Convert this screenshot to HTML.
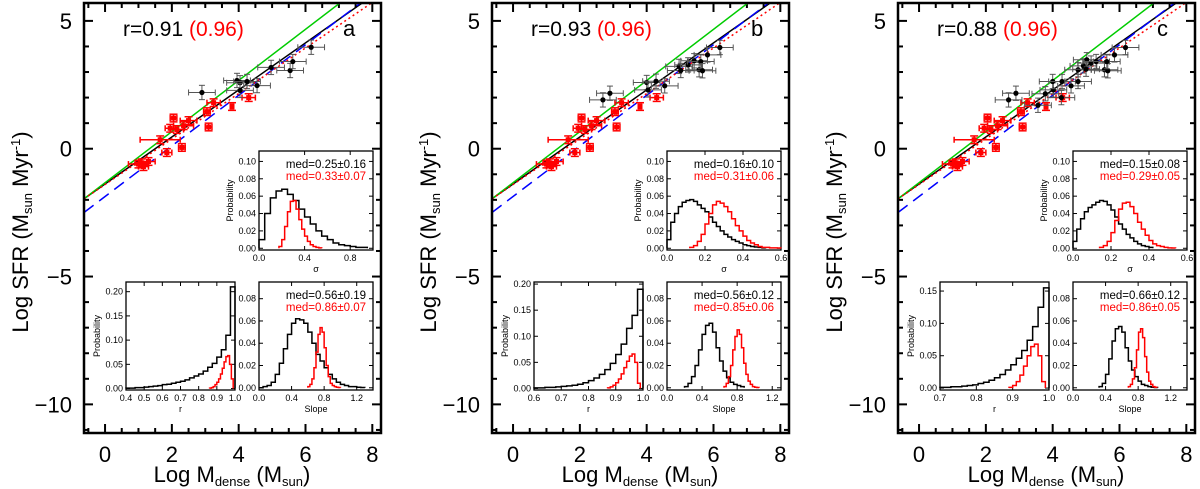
<!DOCTYPE html>
<html><head><meta charset="utf-8">
<style>
body{margin:0;background:#fff;}
svg{display:block;font-family:"Liberation Sans",sans-serif;}
</style></head>
<body>
<svg id="fig" width="1200" height="489" viewBox="0 0 1200 489"></svg>
<script>
// ---------- data ----------
const redX=[1.1,1.15,1.3,1.0,1.65,1.85,1.95,2.05,2.15,2.3,2.35,2.5,3.1,3.05,3.25,3.8,4.3];
const redY=[-0.55,-0.7,-0.5,-0.6,0.35,-0.15,0.8,1.2,0.75,0.05,0.9,1.1,0.85,1.45,1.8,1.65,2.0];
const redXErr=[0.2,0.15,0.2,0.3,0.6,0.15,0.15,0.1,0.2,0.1,0.3,0.25,0.1,0.1,0.2,0.05,0.2];
const blackXa=[2.9,3.95,4.04,4.04,4.25,4.55,4.97,5.54,5.62,6.17];
const blackYa=[2.2,2.67,2.58,2.28,2.63,2.47,3.18,3.06,3.41,3.97];
const blackXb=[2.69,2.9,4.0,4.04,4.28,4.54,4.97,5.02,5.24,5.42,5.57,5.62,5.67,5.82,6.19];
const blackYb=[1.91,2.17,2.59,2.3,2.64,2.46,3.22,3.06,3.28,3.44,3.09,3.41,3.05,3.67,3.96];
const blackXc=[2.68,2.9,3.56,3.78,4.02,4.0,4.28,4.55,4.76,4.76,4.92,5.02,5.0,5.15,5.3,5.55,5.65,5.62,5.85,6.18,4.26];
const blackYc=[1.91,2.17,1.7,2.15,2.3,2.63,2.63,2.46,2.63,3.09,3.24,3.48,3.11,3.35,3.41,3.09,3.05,3.41,3.67,3.96,2.0];
const panelLabels=['a','b','c'];
const rBlack=['0.91','0.93','0.88'];
const rRed=['(0.96)','(0.96)','(0.96)'];
const fitSlopes=[0.92,1.0,0.99,0.89];      // black, green, blue, red-dotted
const fitIntercepts=[-1.38,-1.33,-1.87,-1.4];
const medSigma=[['0.25±0.16','0.33±0.07'],['0.16±0.10','0.31±0.06'],['0.15±0.08','0.29±0.05']];
const medSlope=[['0.56±0.19','0.86±0.07'],['0.56±0.12','0.85±0.06'],['0.66±0.12','0.86±0.05']];
// histograms: start, bin width, values
const sigA_k={x0:0,dx:0.05,v:[0.01,0.04,0.058,0.066,0.068,0.062,0.055,0.045,0.036,0.028,0.02,0.014,0.01,0.006,0.004,0.003,0.002,0.001,0.001]};
const sigA_r={x0:0.175,dx:0.025,v:[0.002,0.01,0.025,0.042,0.054,0.055,0.045,0.033,0.022,0.014,0.008,0.004,0.002,0.001,0.0005]};
const rA_k={x0:0.4,dx:0.025,v:[0.001,0.001,0.002,0.002,0.003,0.004,0.005,0.006,0.008,0.009,0.011,0.013,0.015,0.018,0.022,0.026,0.03,0.036,0.044,0.052,0.065,0.08,0.11,0.21]};
const rA_r={x0:0.86,dx:0.01,v:[0.001,0.002,0.004,0.008,0.013,0.02,0.03,0.042,0.055,0.066,0.068,0.05,0.02]};
const slA_k={x0:0,dx:0.05,v:[0,0.001,0.002,0.005,0.012,0.022,0.035,0.048,0.058,0.062,0.061,0.058,0.05,0.04,0.03,0.024,0.018,0.012,0.008,0.005,0.003,0.002,0.001,0.001,0.0005,0.0003]};
const slA_r={x0:0.6,dx:0.025,v:[0.001,0.003,0.008,0.018,0.032,0.048,0.054,0.05,0.036,0.02,0.01,0.004,0.002,0.001,0.0005,0.0003]};
const sigB_k={x0:0,dx:0.02,v:[0.01,0.03,0.04,0.048,0.053,0.055,0.056,0.054,0.05,0.046,0.042,0.036,0.03,0.025,0.02,0.016,0.013,0.01,0.008,0.006,0.004,0.003,0.002,0.0015,0.001,0.0005]};
const sigB_r={x0:0.12,dx:0.02,v:[0.001,0.003,0.008,0.016,0.028,0.04,0.05,0.054,0.052,0.048,0.042,0.034,0.026,0.02,0.014,0.009,0.006,0.004,0.002,0.001,0.001,0.0005,0.0005,0.0003]};
const rB_k={x0:0.6,dx:0.02,v:[0.001,0.001,0.002,0.002,0.003,0.004,0.005,0.006,0.008,0.011,0.015,0.02,0.027,0.036,0.048,0.065,0.085,0.115,0.14,0.19]};
const rB_r={x0:0.87,dx:0.01,v:[0.001,0.003,0.006,0.011,0.018,0.028,0.04,0.052,0.062,0.066,0.05,0.01]};
const slB_k={x0:0.2,dx:0.04,v:[0.001,0.004,0.01,0.02,0.034,0.048,0.056,0.058,0.05,0.036,0.024,0.015,0.009,0.005,0.003,0.002,0.001]};
const slB_r={x0:0.65,dx:0.025,v:[0.001,0.004,0.01,0.02,0.034,0.046,0.052,0.048,0.036,0.022,0.012,0.006,0.003,0.001,0.0005,0.0003]};
const sigC_k={x0:0,dx:0.02,v:[0.008,0.022,0.034,0.042,0.047,0.05,0.053,0.055,0.054,0.05,0.044,0.036,0.028,0.022,0.016,0.012,0.008,0.005,0.003,0.002,0.001]};
const sigC_r={x0:0.14,dx:0.02,v:[0.001,0.003,0.008,0.018,0.032,0.045,0.052,0.053,0.048,0.04,0.03,0.022,0.015,0.009,0.005,0.003,0.002,0.001,0.0005,0.0003]};
const rC_k={x0:0.7,dx:0.015,v:[0.001,0.001,0.002,0.002,0.003,0.004,0.005,0.007,0.009,0.012,0.016,0.021,0.028,0.036,0.046,0.058,0.074,0.095,0.125,0.155]};
const rC_r={x0:0.89,dx:0.01,v:[0.001,0.004,0.01,0.02,0.034,0.05,0.064,0.068,0.05,0.01]};
const slC_k={x0:0.32,dx:0.04,v:[0.001,0.004,0.012,0.026,0.042,0.053,0.055,0.05,0.036,0.024,0.016,0.01,0.006,0.003,0.002,0.001,0.0005,0.0003]};
const slC_r={x0:0.68,dx:0.025,v:[0.001,0.003,0.008,0.018,0.034,0.05,0.053,0.045,0.028,0.014,0.006,0.003,0.001,0.0005]};
const sigTicksX=[[0,0.4,0.8],[0,0.2,0.4,0.6],[0,0.2,0.4,0.6]];
const sigXmax=[1.0,0.6,0.6];
const rTicksX=[[0.4,0.5,0.6,0.7,0.8,0.9,1.0],[0.6,0.7,0.8,0.9,1.0],[0.7,0.8,0.9,1.0]];
const rXmin=[0.4,0.6,0.7];
const rYmax=[0.22,0.204,0.164];
const rTicksY=[[0,0.05,0.1,0.15,0.2],[0,0.05,0.1,0.15,0.2],[0,0.05,0.1,0.15]];
const slXmax=[1.4,1.3,1.4];
const slTicksX=[0,0.4,0.8,1.2];
const sigTicksY=[0,0.02,0.04,0.06,0.08,0.1];
const slTicksY=[0,0.02,0.04,0.06,0.08];
const xTicks=[0,2,4,6,8];
const yTicks=[5,0,-5,-10];

// ---------- drawing ----------
const NS='http://www.w3.org/2000/svg';
const svg=document.getElementById('fig');
function mk(tag,attrs,parent){const e=document.createElementNS(NS,tag);for(const k in attrs)e.setAttribute(k,attrs[k]);(parent||svg).appendChild(e);return e;}
function txt(s,attrs,parent){const e=mk('text',attrs,parent);e.textContent=s;return e;}
const fmt=(v,d)=>v.toFixed(d);

function drawInset(g,X0,Y0,W,H,xmin,xmax,ymin,ymax,xt,xd,yt,yd,xtitle,hk,hr,med,showY){
  const sx=v=>X0+(v-xmin)/(xmax-xmin)*W, sy=v=>Y0+H-(v-ymin)/(ymax-ymin)*H;
  const box=mk('rect',{x:X0,y:Y0,width:W,height:H,fill:'#fff',stroke:'#000','stroke-width':1.3},g);
  
  xt.forEach(t=>{const x=sx(t);mk('line',{x1:x,x2:x,y1:Y0+H,y2:Y0+H-4,stroke:'#000','stroke-width':1},g);mk('line',{x1:x,x2:x,y1:Y0,y2:Y0+4,stroke:'#000','stroke-width':1},g);
    const l=txt(fmt(t,xd),{x:x,y:Y0+H+11,'font-size':9,'text-anchor':'middle'},g);});
  yt.forEach(t=>{const y=sy(t);mk('line',{x1:X0,x2:X0+4,y1:y,y2:y,stroke:'#000','stroke-width':1},g);mk('line',{x1:X0+W,x2:X0+W-4,y1:y,y2:y,stroke:'#000','stroke-width':1},g);
    const l=txt(fmt(t,yd),{x:X0-3,y:y+3,'font-size':9,'text-anchor':'end'},g);});
  const xl=txt(xtitle,{x:X0+W/2,y:Y0+H+22,'font-size':9,'text-anchor':'middle'},g);
  if(showY){const yl=txt('Probability',{x:0,y:0,'font-size':9,'text-anchor':'middle',transform:`translate(${X0-26},${Y0+H/2}) rotate(-90)`},g);}
  [[hk,'#000'],[hr,'#f00']].forEach(([h,c])=>{let d='';h.v.forEach((v,i)=>{const xa=sx(Math.max(xmin,h.x0+i*h.dx)),xb=sx(Math.min(xmax,h.x0+(i+1)*h.dx)),y=sy(v);d+=(i===0?`M${xa},${sy(0)}L${xa},${y}`:`L${xa},${y}`)+`L${xb},${y}`;});
    d+=`L${sx(Math.min(xmax,h.x0+h.v.length*h.dx))},${sy(0)}`;
    const p=mk('path',{d:d,fill:'none',stroke:c,'stroke-width':1.5},g);});
  if(med){const cx=X0+W/2+10;
    const m1=txt('med='+med[0],{x:cx,y:Y0+17,'font-size':11.5,'text-anchor':'middle',fill:'#000'},g);
    const m2=txt('med='+med[1],{x:cx,y:Y0+29,'font-size':11.5,'text-anchor':'middle',fill:'#f00'},g);}
}

const panelL=[84,492,898];
const blackXs=[blackXa,blackXb,blackXc], blackYs=[blackYa,blackYb,blackYc];
const hists=[[sigA_k,sigA_r,rA_k,rA_r,slA_k,slA_r],[sigB_k,sigB_r,rB_k,rB_r,slB_k,slB_r],[sigC_k,sigC_r,rC_k,rC_r,slC_k,slC_r]];
panelL.forEach((L,pi)=>{
  const g=mk('g',{});
  const T=3,W=297,H=430,xmin=-0.63,xmax=8.26,ymin=-11.12,ymax=5.7;
  const sx=v=>L+(v-xmin)/(xmax-xmin)*W, sy=v=>T+H-(v-ymin)/(ymax-ymin)*H;
  const clip=mk('clipPath',{id:'clip'+pi},g);mk('rect',{x:L,y:T,width:W,height:H},clip);
  for(let v=-0.5;v<=8.2;v+=0.5){const x=sx(v),maj=Math.abs(v%2)<1e-6,len=maj?9:5;
    mk('line',{x1:x,x2:x,y1:T+H,y2:T+H-len,stroke:'#000','stroke-width':2},g);mk('line',{x1:x,x2:x,y1:T,y2:T+len,stroke:'#000','stroke-width':2},g);}
  for(let v=-11;v<=5;v+=1){const y=sy(v),maj=v%5===0,len=maj?9:5;
    mk('line',{x1:L,x2:L+len,y1:y,y2:y,stroke:'#000','stroke-width':2},g);mk('line',{x1:L+W,x2:L+W-len,y1:y,y2:y,stroke:'#000','stroke-width':2},g);}
  xTicks.forEach(t=>{const l=txt(String(t),{x:sx(t),y:462,'font-size':22,'text-anchor':'middle'},g);});
  yTicks.forEach(t=>{const l=txt(t<0?'\u2212'+(-t):String(t),{x:L-12,y:sy(t)+8,'font-size':22,'text-anchor':'end'},g);});
  const xt=txt('',{x:L+148,y:482,'font-size':22,'text-anchor':'middle'},g);xt.innerHTML='Log M<tspan font-size="13" dy="4">dense</tspan><tspan dy="-4"> (M</tspan><tspan font-size="13" dy="4">sun</tspan><tspan dy="-4">)</tspan>';
  
  const yt=txt('',{x:0,y:0,'font-size':22,'text-anchor':'middle',transform:`translate(${L-56},232) rotate(-90)`},g);yt.innerHTML='Log SFR (M<tspan font-size="13" dy="4">sun</tspan><tspan dy="-4"> Myr</tspan><tspan font-size="13" dy="-8">-1</tspan><tspan dy="8">)</tspan>';
  
  const lg=mk('g',{'clip-path':`url(#clip${pi})`},g);
  const styles=[{stroke:'#000','stroke-width':1.5,n:'fit-line-black'},{stroke:'#0c0','stroke-width':1.5,n:'fit-line-green'},{stroke:'#00f','stroke-width':1.5,'stroke-dasharray':'12,7',n:'fit-line-blue-dashed'},{stroke:'#f00','stroke-width':1.5,'stroke-dasharray':'2,3',n:'fit-line-red-dotted'}];
  fitSlopes.forEach((m,i)=>{const s=styles[i];const a={x1:sx(xmin),y1:sy(fitIntercepts[i]+m*xmin),x2:sx(xmax),y2:sy(fitIntercepts[i]+m*xmax),stroke:s.stroke,'stroke-width':s['stroke-width']};if(s['stroke-dasharray'])a['stroke-dasharray']=s['stroke-dasharray'];
    const l=mk('line',a,lg);});
  redX.forEach((x,i)=>{const y=redY[i],pg=mk('g',{},lg);
    const xe=redXErr[i],ye=0.15;
    mk('line',{x1:sx(x-xe),x2:sx(x+xe),y1:sy(y),y2:sy(y),stroke:'#f00','stroke-width':1.5},pg);
    mk('line',{x1:sx(x),x2:sx(x),y1:sy(y-ye),y2:sy(y+ye),stroke:'#f00','stroke-width':1.5},pg);
    [x-xe,x+xe].forEach(v=>mk('line',{x1:sx(v),x2:sx(v),y1:sy(y)-3,y2:sy(y)+3,stroke:'#f00','stroke-width':1.5},pg));
    [y-ye,y+ye].forEach(v=>mk('line',{x1:sx(x)-4,x2:sx(x)+4,y1:sy(v),y2:sy(v),stroke:'#f00','stroke-width':1.5},pg));
    mk('rect',{x:sx(x)-2.5,y:sy(y)-2.5,width:5,height:5,fill:'#f00'},pg);});
  blackXs[pi].forEach((x,i)=>{const y=blackYs[pi][i],pg=mk('g',{},lg);
    const xe=0.4,ye=0.28,c='#555';
    mk('line',{x1:sx(x-xe),x2:sx(x+xe),y1:sy(y),y2:sy(y),stroke:c,'stroke-width':1},pg);
    mk('line',{x1:sx(x),x2:sx(x),y1:sy(y-ye),y2:sy(y+ye),stroke:c,'stroke-width':1},pg);
    [x-xe,x+xe].forEach(v=>mk('line',{x1:sx(v),x2:sx(v),y1:sy(y)-3,y2:sy(y)+3,stroke:c,'stroke-width':1},pg));
    [y-ye,y+ye].forEach(v=>mk('line',{x1:sx(x)-3,x2:sx(x)+3,y1:sy(v),y2:sy(v),stroke:c,'stroke-width':1},pg));
    mk('circle',{cx:sx(x),cy:sy(y),r:2.6,fill:'#000'},pg);});
  const fr=mk('rect',{x:L,y:T,width:W,height:H,fill:'none',stroke:'#000','stroke-width':2.5},g);
  const rt=txt('',{x:L+39,y:36,'font-size':21},g);rt.innerHTML='r='+rBlack[pi]+' <tspan fill="#f00">'+rRed[pi]+'</tspan>';
  const pl=txt(panelLabels[pi],{x:L+259,y:36,'font-size':22},g);
  const h=hists[pi];
  const g1=mk('g',{},g);
  drawInset(g1,L+175,151,114,99,0,sigXmax[pi],-0.002,0.112,sigTicksX[pi],1,sigTicksY,2,'σ',h[0],h[1],medSigma[pi],true);
  const g2=mk('g',{},g);
  drawInset(g2,L+42,282,109,108,rXmin[pi],1.0,-0.003,rYmax[pi],rTicksX[pi],1,rTicksY[pi],2,'r',h[2],h[3],null,true);
  const g3=mk('g',{},g);
  drawInset(g3,L+175,282,114,108,0,slXmax[pi],-0.002,0.095,slTicksX,1,slTicksY,2,'Slope',h[4],h[5],medSlope[pi],false);
});
</script>
</body></html>
